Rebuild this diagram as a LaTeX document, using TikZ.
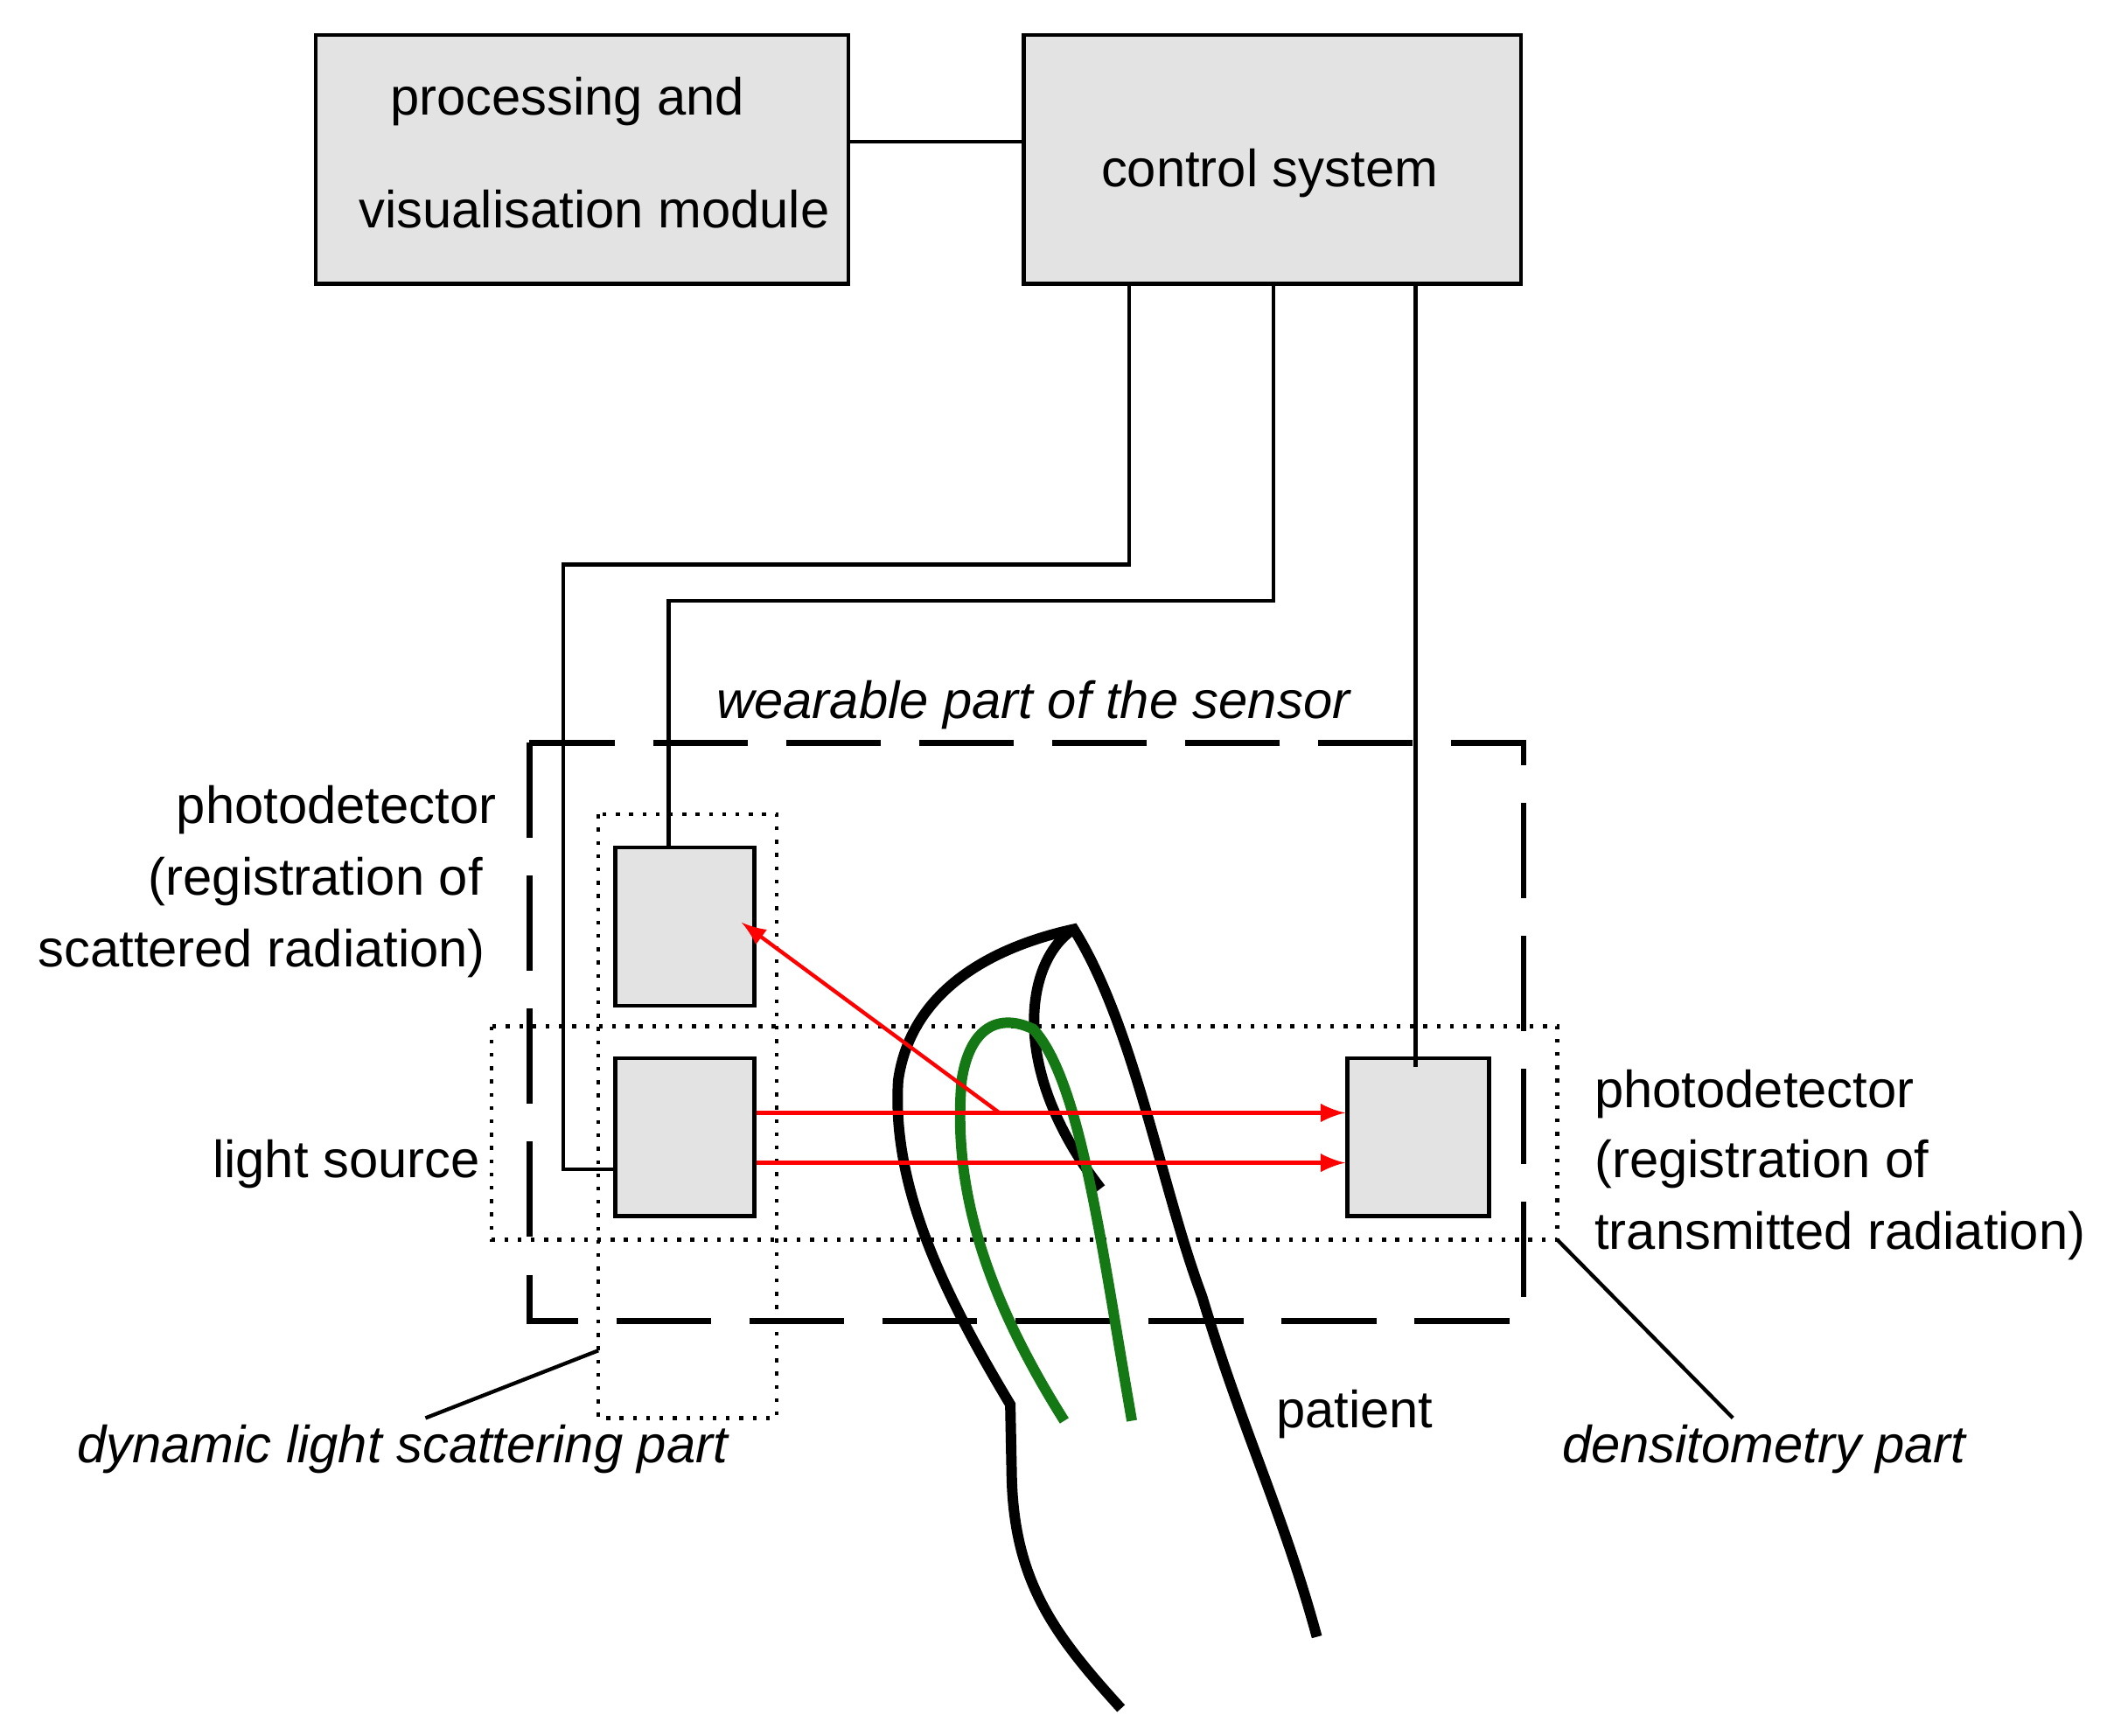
\documentclass[tikz,border=0pt]{standalone}
\usepackage{fontspec}
\setmainfont{Liberation Sans}
\definecolor{boxgray}{gray}{0.89}
\definecolor{fgreen}{RGB}{20,120,20}
\begin{document}
\begin{tikzpicture}[x=0.01cm,y=-0.01cm,
  box/.style={draw,thick,fill=boxgray,inner sep=0pt},
  lbl/.style={font=\fontsize{11}{13}\selectfont,inner sep=0pt},
  ilbl/.style={font=\fontsize{11}{13}\selectfont\itshape,inner sep=0pt},
  wire/.style={thick},
  ray/.style={red,thick,-latex}]
\useasboundingbox (0,0) rectangle (1560,1285);
% top blocks
\node[box,minimum width=3.94cm,minimum height=1.84cm] (pv) at (431,118) {};
\node[lbl] at (420,75) {processing and};
\node[lbl] at (440,155) {visualisation module};
\node[box,minimum width=3.68cm,minimum height=1.84cm] (cs) at (942,118) {};
\node[lbl] at (940,128) {control system};
\draw[wire] (pv.east |- 0,105) -- (cs.west |- 0,105);
% sensor boxes
\node[box,minimum width=1.03cm,minimum height=1.17cm] (pd) at (507,686) {};
\node[box,minimum width=1.03cm,minimum height=1.17cm] (ls) at (507,842) {};
\node[box,minimum width=1.05cm,minimum height=1.17cm] (td) at (1050,842) {};
% regions
\draw[very thick,dash pattern=on 20pt off 8pt] (392,550) rectangle (1128,978);
\draw[thick,dotted] (443,603) rectangle (575,1050);
\draw[thick,dotted] (364,760) rectangle (1153,918);
% wires
\draw[wire] (836,210) -- (836,418) -- (417,418) -- (417,866) -- (ls.west |- 0,866);
\draw[wire] (943,210) -- (943,445) -- (495,445) -- (pd.north -| 495,0);
\draw[wire] (1048,210) -- (1048,790);
% finger
\draw[line width=2.2pt] (830,1265) .. controls (780,1210) and (750,1170) .. (749,1090)
  -- (748,1040) .. controls (700,960) and (660,880) .. (665,800)
  .. controls (675,730) and (740,700) .. (795,688)
  .. controls (840,760) and (860,880) .. (890,960)
  .. controls (920,1060) and (950,1120) .. (975,1212);
\draw[line width=2.2pt] (795,688) .. controls (760,710) and (745,790) .. (815,880);
\draw[fgreen,line width=2.2pt] (788,1052) .. controls (730,960) and (705,880) .. (712,800)
  .. controls (718,760) and (740,750) .. (765,762)
  .. controls (800,800) and (815,920) .. (838,1052);
% rays
\draw[ray] (ls.east |- 0,824) -- (td.west |- 0,824);
\draw[ray] (ls.east |- 0,861) -- (td.west |- 0,861);
\draw[red,thick,-latex] (740,824) -- (549,683);
% labels
\node[ilbl] at (765,522) {wearable part of the sensor};
\node[lbl,anchor=east] at (368,600) {photodetector};
\node[lbl,anchor=east] at (358,653) {(registration of};
\node[lbl,anchor=east] at (360,706) {scattered radiation)};
\node[lbl,anchor=east] at (356,862) {light source};
\node[lbl,anchor=west] at (1180,810) {photodetector};
\node[lbl,anchor=west] at (1180,862) {(registration of};
\node[lbl,anchor=west] at (1180,915) {transmitted radiation)};
\node[lbl] at (1003,1047) {patient};
\node[ilbl] (dls) at (298,1073) {dynamic light scattering part};
\node[ilbl] (dens) at (1306,1073) {densitometry part};
\coordinate (c1) at (443,1000);
\coordinate (c2) at (1153,918);
\draw[thick] (315,1050) -- (c1);
\draw[thick] (c2) -- (1283,1050);
\end{tikzpicture}
\end{document}
